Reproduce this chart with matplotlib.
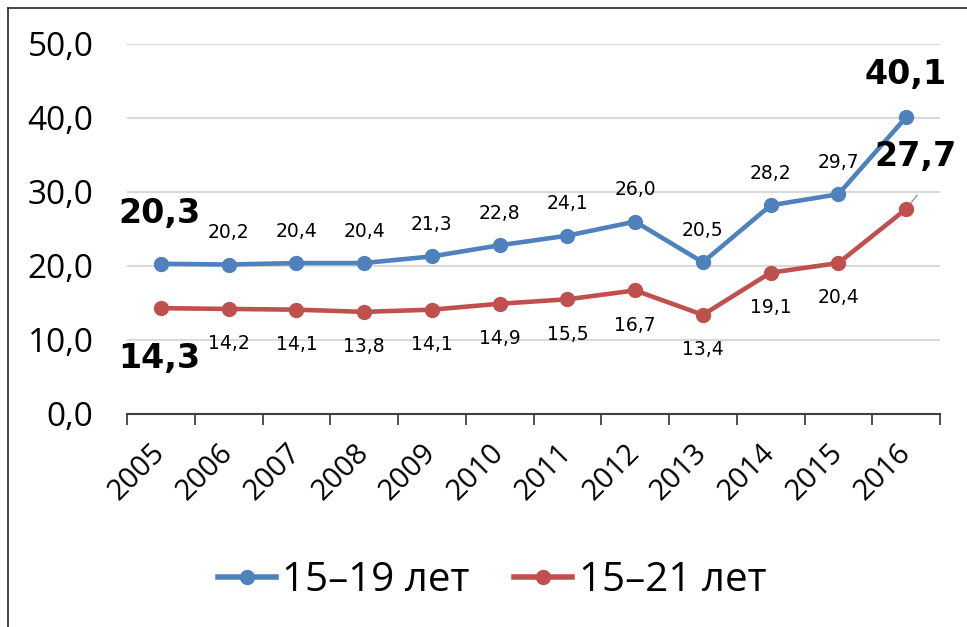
import matplotlib.pyplot as plt
from matplotlib.lines import Line2D
import numpy as np

years = ['2005', '2006', '2007', '2008', '2009', '2010',
         '2011', '2012', '2013', '2014', '2015', '2016']
age_15_19 = [20.3, 20.2, 20.4, 20.4, 21.3, 22.8, 24.1, 26.0, 20.5, 28.2, 29.7, 40.1]
age_15_21 = [14.3, 14.2, 14.1, 13.8, 14.1, 14.9, 15.5, 16.7, 13.4, 19.1, 20.4, 27.7]
series_names = ['15–19 лет', '15–21 лет']

BLUE = '#4F81BD'
RED = '#C0504D'
FONT = ['Open Sans', 'DejaVu Sans']
LABEL_FONT = ['DejaVu Sans']

plt.rcParams['font.family'] = FONT

fig = plt.figure(figsize=(9.67, 6.27), dpi=100)
ax = fig.add_axes([127 / 967, 1 - 414 / 627, (940 - 127) / 967, (414 - 44) / 627])

x = np.arange(len(years))
ax.plot(x, age_15_19, color=BLUE, lw=3.3, marker='o', ms=10, zorder=3)
ax.plot(x, age_15_21, color=RED, lw=3.3, marker='o', ms=10, zorder=3)

ax.set_xlim(-0.5, len(years) - 0.5)
ax.set_ylim(0, 50)
ax.set_yticks(np.arange(0, 51, 10))
ax.set_yticklabels([f'{v:.1f}'.replace('.', ',') for v in np.arange(0, 51, 10)], fontsize=24)
ax.tick_params(axis='y', length=0, pad=24)
ax.grid(axis='y', color='#D9D9D9', lw=1.5)
ax.set_axisbelow(True)

ax.set_xticks(x)
ax.set_xticklabels(years, fontsize=21, rotation=45, ha='right', va='center',
                   rotation_mode='anchor')
ax.tick_params(axis='x', length=0, pad=25)
ax.set_xticks(np.arange(-0.5, len(years)), minor=True)
ax.tick_params(axis='x', which='minor', length=8, width=1.3, color='#404040')

for s in ['top', 'right', 'left']:
    ax.spines[s].set_visible(False)
ax.spines['bottom'].set_color('#404040')
ax.spines['bottom'].set_linewidth(1.5)

def fmt(v):
    return f'{v:.1f}'.replace('.', ',')

# data labels
for i, v in enumerate(age_15_19):
    if i == 0 or i == len(years) - 1:
        continue
    ax.annotate(fmt(v), (i, v), xytext=(0, 23), textcoords='offset points',
                ha='center', va='center', fontsize=13.5, family=LABEL_FONT)
for i, v in enumerate(age_15_21):
    if i == 0 or i == len(years) - 1:
        continue
    ax.annotate(fmt(v), (i, v), xytext=(0, -25), textcoords='offset points',
                ha='center', va='center', fontsize=13.5, family=LABEL_FONT)

big = dict(fontsize=24, fontweight='bold', ha='center', va='center', family=LABEL_FONT)
ax.annotate(fmt(age_15_19[0]), (0, age_15_19[0]), xytext=(-1, 36),
            textcoords='offset points', **big)
ax.annotate(fmt(age_15_21[0]), (0, age_15_21[0]), xytext=(-1, -36),
            textcoords='offset points', **big)
ax.annotate(fmt(age_15_19[-1]), (11, age_15_19[-1]), xytext=(0, 31),
            textcoords='offset points', annotation_clip=False, **big)
ax.annotate(fmt(age_15_21[-1]), (11, age_15_21[-1]), xytext=(7, 38),
            textcoords='offset points', annotation_clip=False, **big)
# leader line for the last red label
ax.annotate('', (11, age_15_21[-1]), xytext=(8, 10), textcoords='offset points',
            annotation_clip=False,
            arrowprops=dict(arrowstyle='-', color='#A6A6A6', lw=1.2, shrinkA=0, shrinkB=0),
            zorder=2)

handles = [Line2D([], [], color=BLUE, lw=4, marker='o', ms=10),
           Line2D([], [], color=RED, lw=4, marker='o', ms=10)]
fig.legend(handles, series_names, loc='center', bbox_to_anchor=(492 / 967, 1 - 581 / 627),
           ncol=2, frameon=False, fontsize=29, handlelength=1.45, handletextpad=0.15,
           columnspacing=1.1)

# outer frame
fig.add_artist(Line2D([8 / 967, 8 / 967], [0, 1 - 8 / 627], color='#262626', lw=1.2))
fig.add_artist(Line2D([8 / 967, 1], [1 - 8 / 627, 1 - 8 / 627], color='#262626', lw=1.2))

fig.savefig('out.png', dpi=100)
